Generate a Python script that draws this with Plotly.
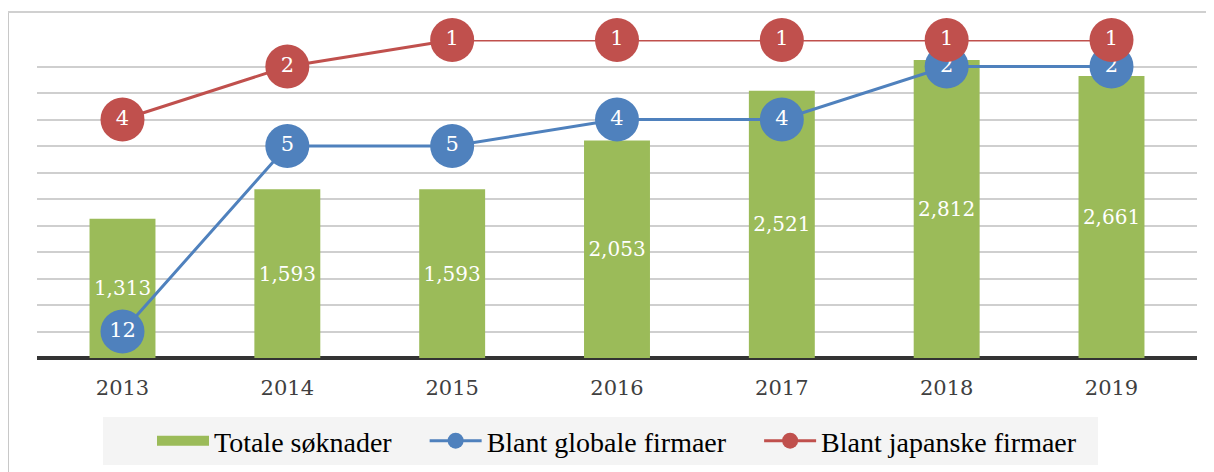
import plotly.graph_objects as go

years = ["2013", "2014", "2015", "2016", "2017", "2018", "2019"]
total_applications = [1313, 1593, 1593, 2053, 2521, 2812, 2661]
rank_global = [12, 5, 5, 4, 4, 2, 2]
rank_japanese = [4, 2, 1, 1, 1, 1, 1]
legend_names = ["Totale søknader", "Blant globale firmaer", "Blant japanske firmaer"]

NUMFONT = "DejaVu Serif"
LEGFONT = "Liberation Serif"
GREEN = "#9BBB59"
BLUE = "#4F81BD"
RED = "#C0504D"
GAP = "\u00a0" * 4

fig = go.Figure()

fig.add_trace(go.Bar(
    x=years, y=total_applications, name=legend_names[0], showlegend=False,
    marker=dict(color=GREEN, line=dict(width=0)), width=0.4,
    texttemplate="%{y:,}", textposition="inside", insidetextanchor="middle",
    textangle=0, constraintext="none",
    textfont=dict(family=NUMFONT, size=20, color="white"),
    yaxis="y",
))

# legend entry for bars (wide swatch as in the original)
fig.add_trace(go.Scatter(
    x=[None], y=[None], name=legend_names[0] + GAP, mode="lines",
    line=dict(color=GREEN, width=11), yaxis="y", showlegend=True,
))

fig.add_trace(go.Scatter(
    x=years, y=rank_global, name=legend_names[1] + GAP,
    mode="lines+markers+text", text=[str(v) for v in rank_global],
    textposition="middle center",
    textfont=dict(family=NUMFONT, size=21, color="white"),
    line=dict(color=BLUE, width=3),
    marker=dict(size=44, color=BLUE, line=dict(width=0)),
    cliponaxis=False, yaxis="y2",
))

fig.add_trace(go.Scatter(
    x=years, y=rank_japanese, name=legend_names[2],
    mode="lines+markers+text", text=[str(v) for v in rank_japanese],
    textposition="middle center",
    textfont=dict(family=NUMFONT, size=21, color="white"),
    line=dict(color=RED, width=3),
    marker=dict(size=44, color=RED, line=dict(width=0)),
    cliponaxis=False, yaxis="y2",
))

fig.update_layout(
    width=1214, height=472,
    margin=dict(l=29, r=25, t=32, b=122, autoexpand=False),
    paper_bgcolor="white", plot_bgcolor="white",
    showlegend=True,
    uniformtext=dict(mode=False),
    legend=dict(
        orientation="h", x=0.5, xanchor="center", y=-0.261, yanchor="middle",
        font=dict(family=LEGFONT, size=28, color="black"),
        bgcolor="rgba(0,0,0,0)", itemwidth=52,
        traceorder="normal",
    ),
    xaxis=dict(
        showgrid=False, showline=False, zeroline=False,
        ticks="outside", ticklen=11, tickcolor="rgba(0,0,0,0)",
        tickfont=dict(family=NUMFONT, size=21, color="#404040"),
    ),
    yaxis=dict(
        range=[0, 3000], dtick=250, showgrid=True, gridcolor="#CFCFCF", gridwidth=2,
        showticklabels=False, zeroline=True, zerolinecolor="#333333", zerolinewidth=4,
        showline=False,
    ),
    yaxis2=dict(
        range=[13, 1], overlaying="y", side="right", showgrid=False,
        showticklabels=False, zeroline=False, showline=False,
    ),
    shapes=[
        dict(type="rect", xref="paper", yref="paper",
             x0=(103 - 37) / 1160, x1=(1098 - 37) / 1160,
             y0=(358 - 465) / 318, y1=(358 - 417) / 318,
             fillcolor="#F4F4F4", line=dict(width=0), layer="below"),
        dict(type="line", xref="paper", yref="paper",
             x0=(8 - 37) / 1160, x1=(8 - 37) / 1160,
             y0=(358 - 480) / 318, y1=(358 - 12) / 318,
             line=dict(color="#C8C8C8", width=2)),
        dict(type="line", xref="paper", yref="paper",
             x0=(8 - 37) / 1160, x1=(1230 - 37) / 1160,
             y0=(358 - 12) / 318, y1=(358 - 12) / 318,
             line=dict(color="#D0D0D0", width=2)),
    ],
)

fig.write_html("out.html")
